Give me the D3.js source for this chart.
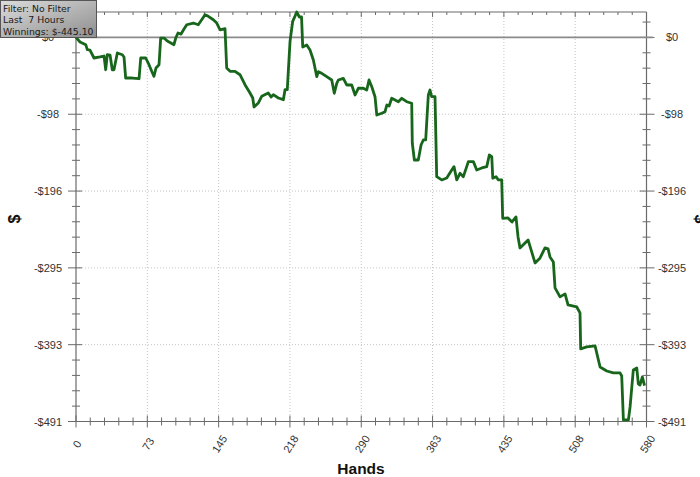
<!DOCTYPE html>
<html><head><meta charset="utf-8">
<script src="https://cdn.jsdelivr.net/npm/d3@7"></script>
<style>body{margin:0;background:#fff;}svg{display:block;}</style>
</head><body>
<svg id="chart" width="700" height="477"></svg>
<script>
const hands = [0,4.1,9.9,11.5,14.2,18.3,24.4,28.5,30.2,31.8,34.6,36.9,38.6,42.0,47.1,48.8,50.5,57.2,64.1,65.8,70.9,74.2,77.3,79.3,81.3,84.4,86.1,89.5,92.8,99.6,101.4,103.7,106.8,109.8,112.6,119.3,124.3,127.8,131.2,134.5,139.6,143.1,146.4,151.5,153.2,156.6,161.7,166.7,171.8,176.9,179.7,181.0,185.4,188.8,195.5,198.3,200.6,205.7,210.8,212.5,214.8,217.6,220.3,222.7,224.4,227.1,229.3,230.5,234.6,237.9,241.3,244.8,246.4,249.8,254.9,260.0,262.6,265.1,266.7,271.8,275.2,280.3,283.7,287.0,292.1,295.6,297.9,300.7,304.0,305.8,310.9,314.2,316.0,318.3,321.0,324.4,327.7,331.2,336.2,341.3,341.9,344.0,348.0,350.8,353.1,355.5,358.2,359.9,361.6,365.0,366.7,371.8,376.9,382.0,384.3,387.1,390.4,393.8,398.9,404.0,407.4,412.5,417.6,420.2,422.7,423.7,427.0,429.4,432.8,433.8,439.2,443.3,447.3,449.4,451.4,456.5,459.6,463.3,466.7,471.8,476.8,479.9,481.9,485.3,487.0,492.1,497.2,500.2,509.1,512.4,513.1,519.2,527.7,532.8,539.6,546.3,553.1,554.8,556.5,561.6,563.3,566.6,570.1,571.7,573.4,575.8,578];
const winnings = [0,-5.9,-9.3,-15.7,-16.1,-26.3,-25.0,-23.8,-41.3,-22.1,-22.5,-41.3,-41.3,-19.9,-22.1,-25.0,-51.9,-51.9,-52.8,-26.3,-26.3,-34.9,-44.2,-49.7,-39.1,-34.9,-0.8,-0.8,-4.6,-9.3,-0.8,5.6,4.3,10.7,16.2,18.4,16.2,22.6,29.0,27.0,22.6,18.4,9.8,11.1,-39.1,-43.3,-43.3,-47.7,-60.4,-71.0,-77.4,-88.9,-83.8,-75.3,-71.0,-76.2,-73.2,-77.4,-79.6,-66.8,-66.8,-5.0,20.6,27.3,32.5,26.1,26.1,-12.3,-9.7,-16.1,-28.9,-50.2,-43.8,-45.9,-50.2,-54.4,-71.4,-58.7,-54.4,-52.3,-60.8,-60.8,-73.6,-65.0,-65.0,-67.2,-54.4,-63.0,-75.8,-99.2,-97.0,-94.9,-86.4,-87.7,-77.8,-80.0,-82.2,-77.8,-82.2,-84.2,-135.3,-156.7,-156.7,-137.5,-131.1,-131.1,-73.6,-67.2,-75.8,-75.8,-178.0,-182.2,-179.7,-169.4,-165.2,-182.2,-173.7,-178.0,-158.8,-158.8,-169.4,-166.9,-165.2,-150.3,-152.4,-180.0,-178.0,-182.2,-182.2,-231.2,-230.8,-235.9,-229.5,-255.1,-269.1,-262.7,-258.9,-274.2,-288.3,-281.9,-269.1,-270.4,-280.6,-287.0,-320.2,-331.7,-327.9,-342.0,-344.6,-352.2,-398.2,-395.7,-394.4,-421.3,-426.4,-428.9,-428.9,-432.8,-489.0,-489.0,-472.4,-425.1,-422.6,-443.0,-444.3,-434.1,-445.1];
const xTicks = [0,72.5,145,217.5,290,362.5,435,507.5,580];
const xTickLabels = ["0","73","145","218","290","363","435","508","580"];
const yTicks = [0,-98.2,-196.4,-294.6,-392.8,-491];
const yTickLabels = ["$0","-$98","-$196","-$295","-$393","-$491"];
const legendLines = ["Filter: No Filter","Last  7 Hours","Winnings: $-445.10"];
const xLabel = "Hands", yLabel = "$";

const svg = d3.select("#chart");
const L = 76, R = 646.5, T = 12, B = 421.5;
const x = d3.scaleLinear().domain([0,580]).range([L,R]);
const y = d3.scaleLinear().domain([-491,32.5]).range([B,T]);
const axisCol = "#6a6a6a";
const font = "'Liberation Sans', Arial, sans-serif";

// grid
const g = svg.append("g");
xTicks.slice(1,-1).forEach(t => g.append("line").attr("x1",x(t)).attr("x2",x(t)).attr("y1",T).attr("y2",B)
  .attr("stroke","#c4c4c4").attr("stroke-dasharray","1,2"));
yTicks.slice(1,-1).forEach(t => g.append("line").attr("x1",L).attr("x2",R).attr("y1",y(t)).attr("y2",y(t))
  .attr("stroke","#c4c4c4").attr("stroke-dasharray","1,2"));

// minor ticks
const xMinor = d3.range(0,581,14.5);
const yMinor = d3.range(-491,33,19.64);
// frame
g.append("line").attr("x1",L).attr("x2",R).attr("y1",T).attr("y2",T).attr("stroke",axisCol).attr("stroke-width",1.2);
g.append("line").attr("x1",L).attr("x2",R).attr("y1",B).attr("y2",B).attr("stroke",axisCol).attr("stroke-width",1.2);
g.append("line").attr("x1",L).attr("x2",L).attr("y1",T).attr("y2",B).attr("stroke",axisCol).attr("stroke-width",1.2);
g.append("line").attr("x1",R).attr("x2",R).attr("y1",T).attr("y2",B).attr("stroke",axisCol).attr("stroke-width",1.2);

xMinor.forEach(t => {
  const major = xTicks.some(m => Math.abs(m-t)<0.01);
  g.append("line").attr("x1",x(t)).attr("x2",x(t)).attr("y1",B-(major?6:4)).attr("y2",B+(major?6:4)).attr("stroke",axisCol);
  g.append("line").attr("x1",x(t)).attr("x2",x(t)).attr("y1",T).attr("y2",T+(major?5:3)).attr("stroke",axisCol);
});
yMinor.forEach(t => {
  const major = yTicks.some(m => Math.abs(m-t)<0.05);
  g.append("line").attr("y1",y(t)).attr("y2",y(t)).attr("x1",L-(major?8:4)).attr("x2",L+(major?6:4)).attr("stroke",axisCol);
  g.append("line").attr("y1",y(t)).attr("y2",y(t)).attr("x1",R-(major?7:4)).attr("x2",R+(major?8:4)).attr("stroke",axisCol);
});

// zero line
g.append("line").attr("x1",L).attr("x2",R+6).attr("y1",y(0)).attr("y2",y(0)).attr("stroke","#8a8a8a").attr("stroke-width",1.6);

// tick labels
yTicks.forEach((t,i) => {
  [48,672].forEach(cx => svg.append("text").attr("x",cx).attr("y",y(t)+4).attr("text-anchor","middle")
    .attr("font-family",font).attr("font-size",11).attr("fill","#333").text(yTickLabels[i]));
});
xTicks.forEach((t,i) => {
  svg.append("text").attr("transform",`translate(${x(t)+1},${444}) rotate(-58)`).attr("text-anchor","middle")
    .attr("dy","0.35em").attr("font-family",font).attr("font-size",11).attr("fill","#333").text(xTickLabels[i]);
});

svg.append("text").attr("x",361).attr("y",474).attr("text-anchor","middle").attr("font-family",font)
  .attr("font-weight","bold").attr("font-size",15.5).attr("fill","#111").text(xLabel);
svg.append("text").attr("transform","translate(14,219) rotate(-90)").attr("text-anchor","middle").attr("dy","0.35em")
  .attr("font-family",font).attr("font-weight","bold").attr("font-size",16).attr("fill","#111").text(yLabel);
svg.append("text").attr("transform","translate(701,219) rotate(90)").attr("text-anchor","middle").attr("dy","0.35em")
  .attr("font-family",font).attr("font-weight","bold").attr("font-size",16).attr("fill","#111").text(yLabel);

// line
const data = hands.map((h,i)=>[h,winnings[i]]);
svg.append("path").datum(data).attr("fill","none").attr("stroke","#17661b").attr("stroke-width",2.8)
  .attr("stroke-linejoin","round").attr("d",d3.line().x(d=>x(d[0])).y(d=>y(d[1])));

// legend box
const defs = svg.append("defs");
const grad = defs.append("linearGradient").attr("id","lg").attr("x1","0").attr("y1","0").attr("x2","1").attr("y2","1");
grad.append("stop").attr("offset","0").attr("stop-color","#dcdcdc");
grad.append("stop").attr("offset","1").attr("stop-color","#8e8e8e");
svg.append("rect").attr("x",0.5).attr("y",0.5).attr("width",96).attr("height",37).attr("fill","url(#lg)")
  .attr("stroke","#555").attr("stroke-width",1);
legendLines.forEach((s,i) => svg.append("text").attr("x",3).attr("y",11.5+i*11.5).attr("xml:space","preserve")
  .style("white-space","pre").attr("font-family","'DejaVu Sans', Verdana, sans-serif").attr("font-size",9.3).attr("fill","#1a1a1a").text(s));
</script>
</body></html>
